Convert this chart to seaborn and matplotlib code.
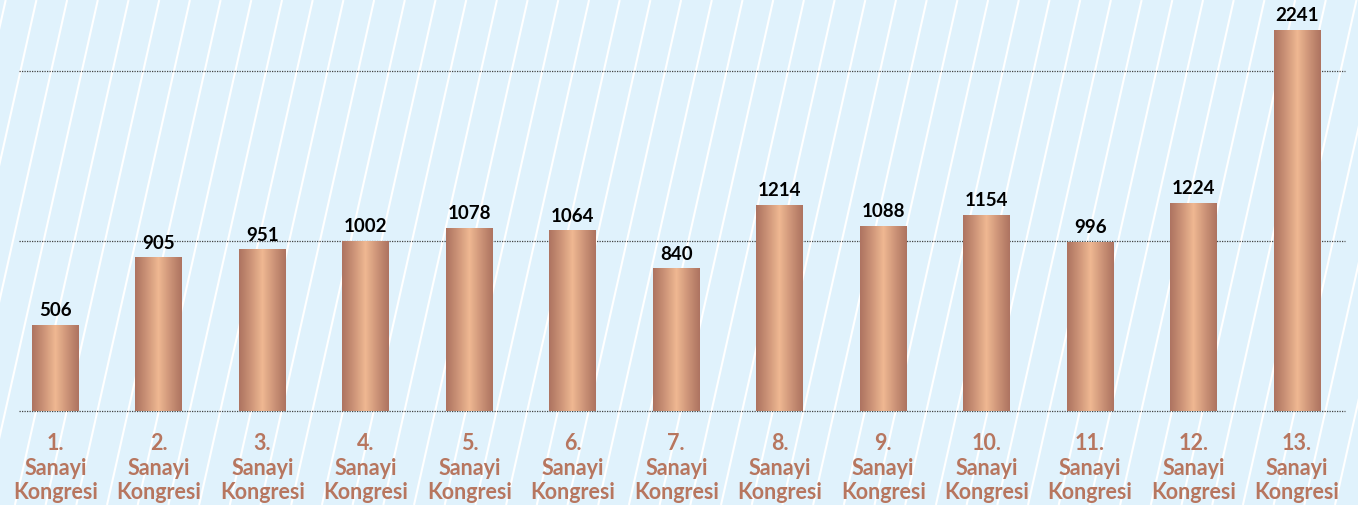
import numpy as np
import pandas as pd
import matplotlib
matplotlib.use("Agg")
import matplotlib.pyplot as plt
from matplotlib.colors import LinearSegmentedColormap
import seaborn as sns

# ── data ────────────────────────────────────────────────────────
congress_no = [f"{i}." for i in range(1, 14)]
participants = [506, 905, 951, 1002, 1078, 1064, 840, 1214, 1088, 1154, 996, 1224, 2241]
labels = [f"{n}\nSanayi\nKongresi" for n in congress_no]

sns.set_theme(style="white")
plt.rcParams["font.family"] = ["Lato", "DejaVu Sans"]

BG = "#e0f2fc"
EDGE = "#ae7461"
CENTER = "#efb892"
LABEL_COL = "#b7765f"

W, H = 1358, 505
fig = plt.figure(figsize=(W / 100, H / 100), dpi=100, facecolor=BG)

# ── striped background ─────────────────────────────────────────
bg = fig.add_axes([0, 0, 1, 1], zorder=0)
bg.set_xlim(0, W)
bg.set_ylim(H, 0)
bg.set_facecolor(BG)
bg.axis("off")
slope = 27 / 120  # horizontal shift per pixel going up
for x0 in np.arange(-200, W + 200, 30.7):
    bg.plot([x0, x0 + slope * H], [H, 0], color="white", lw=1.5, solid_capstyle="butt")

# ── main axes ───────────────────────────────────────────────────
left, right, base = 19, 1345, 411
ax = fig.add_axes([left / W, (H - base) / H, (right - left) / W, base / H], zorder=1)
ax.patch.set_alpha(0)

df = pd.DataFrame({"label": labels, "value": participants})
sns.barplot(data=df, x="label", y="value", ax=ax, width=0.454, color=EDGE,
            saturation=1, zorder=3)

px_per_cat = (1297 - 55.5) / 12
xlim = (-36.5 / px_per_cat, 12 + 48 / px_per_cat)
ylim = (0, base / 170 * 1000)

# gradient fill clipped to each bar: dark edges, light centre
cmap = LinearSegmentedColormap.from_list("copper_bar", [EDGE, CENTER])
t = np.linspace(0, 1, 256)
grad = np.vstack([(1 - np.abs(2 * t - 1)) ** 1.1] * 2)
for p in ax.patches:
    x0, y0 = p.get_x(), p.get_y()
    w, h = p.get_width(), p.get_height()
    im = ax.imshow(grad, cmap=cmap, vmin=0, vmax=1, aspect="auto",
                   extent=(x0, x0 + w, y0, y0 + h), zorder=3.5, interpolation="bilinear")
    im.set_clip_path(p)
    p.set_facecolor("none")
    p.set_edgecolor("none")

for c in ax.containers:
    ax.bar_label(c, padding=4, fontsize=13.5, fontweight="bold", color="black", zorder=5)

ax.set_xlim(*xlim)
ax.set_ylim(*ylim)
for yv in (0, 1000, 2000):
    ax.axhline(yv, color="#444444", lw=0.9, ls=(0, (1, 1)), zorder=2, clip_on=False)

ax.set_xlabel("")
ax.set_ylabel("")
ax.set_yticks([])
ax.tick_params(axis="x", length=0, pad=16)
for tl in ax.get_xticklabels():
    tl.set_color(LABEL_COL)
    tl.set_fontweight("bold")
    tl.set_fontsize(15.5)
    tl.set_linespacing(1.2)
for s in ax.spines.values():
    s.set_visible(False)

fig.savefig("out.png", dpi=100, facecolor=BG)
